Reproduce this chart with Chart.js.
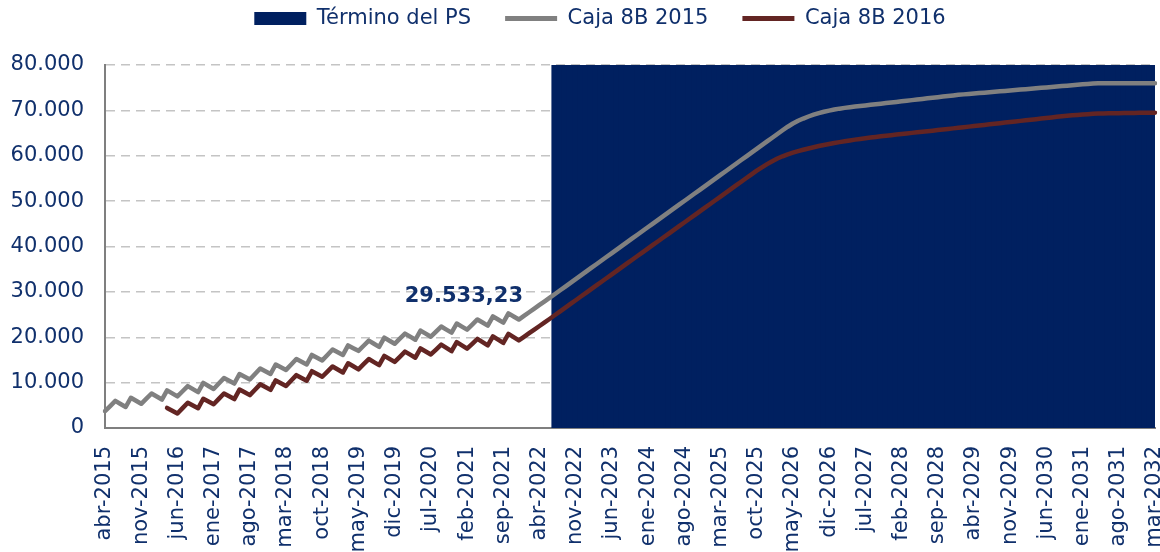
<!DOCTYPE html>
<html><head><meta charset="utf-8">
<script src="https://cdn.jsdelivr.net/npm/chart.js@4.4.1/dist/chart.umd.min.js"></script>
<style>html,body{margin:0;padding:0;background:#fff}</style>
</head><body>
<canvas id="c" width="1160" height="552"></canvas>
<script>
const months = [
'abr-2015','may-2015','jun-2015','jul-2015','ago-2015','sep-2015','oct-2015','nov-2015','dic-2015',
'ene-2016','feb-2016','mar-2016','abr-2016','may-2016','jun-2016','jul-2016','ago-2016','sep-2016','oct-2016','nov-2016','dic-2016',
'ene-2017','feb-2017','mar-2017','abr-2017','may-2017','jun-2017','jul-2017','ago-2017','sep-2017','oct-2017','nov-2017','dic-2017',
'ene-2018','feb-2018','mar-2018','abr-2018','may-2018','jun-2018','jul-2018','ago-2018','sep-2018','oct-2018','nov-2018','dic-2018',
'ene-2019','feb-2019','mar-2019','abr-2019','may-2019','jun-2019','jul-2019','ago-2019','sep-2019','oct-2019','nov-2019','dic-2019',
'ene-2020','feb-2020','mar-2020','abr-2020','may-2020','jun-2020','jul-2020','ago-2020','sep-2020','oct-2020','nov-2020','dic-2020',
'ene-2021','feb-2021','mar-2021','abr-2021','may-2021','jun-2021','jul-2021','ago-2021','sep-2021','oct-2021','nov-2021','dic-2021',
'ene-2022','feb-2022','mar-2022','abr-2022','may-2022','jun-2022','jul-2022','ago-2022','sep-2022','oct-2022','nov-2022','dic-2022',
'ene-2023','feb-2023','mar-2023','abr-2023','may-2023','jun-2023','jul-2023','ago-2023','sep-2023','oct-2023','nov-2023','dic-2023',
'ene-2024','feb-2024','mar-2024','abr-2024','may-2024','jun-2024','jul-2024','ago-2024','sep-2024','oct-2024','nov-2024','dic-2024',
'ene-2025','feb-2025','mar-2025','abr-2025','may-2025','jun-2025','jul-2025','ago-2025','sep-2025','oct-2025','nov-2025','dic-2025',
'ene-2026','feb-2026','mar-2026','abr-2026','may-2026','jun-2026','jul-2026','ago-2026','sep-2026','oct-2026','nov-2026','dic-2026',
'ene-2027','feb-2027','mar-2027','abr-2027','may-2027','jun-2027','jul-2027','ago-2027','sep-2027','oct-2027','nov-2027','dic-2027',
'ene-2028','feb-2028','mar-2028','abr-2028','may-2028','jun-2028','jul-2028','ago-2028','sep-2028','oct-2028','nov-2028','dic-2028',
'ene-2029','feb-2029','mar-2029','abr-2029','may-2029','jun-2029','jul-2029','ago-2029','sep-2029','oct-2029','nov-2029','dic-2029',
'ene-2030','feb-2030','mar-2030','abr-2030','may-2030','jun-2030','jul-2030','ago-2030','sep-2030','oct-2030','nov-2030','dic-2030',
'ene-2031','feb-2031','mar-2031','abr-2031','may-2031','jun-2031','jul-2031','ago-2031','sep-2031','oct-2031','nov-2031','dic-2031',
'ene-2032','feb-2032','mar-2032'
];

const tickLabels = ['abr-2015','nov-2015','jun-2016','ene-2017','ago-2017','mar-2018','oct-2018','may-2019','dic-2019','jul-2020',
'feb-2021','sep-2021','abr-2022','nov-2022','jun-2023','ene-2024','ago-2024','mar-2025','oct-2025','may-2026',
'dic-2026','jul-2027','feb-2028','sep-2028','abr-2029','nov-2029','jun-2030','ene-2031','ago-2031','mar-2032'];

const yTicks = [0, 10000, 20000, 30000, 40000, 50000, 60000, 70000, 80000];

const terminoPS = [
null,null,null,null,null,null,null,null,null,null,
null,null,null,null,null,null,null,null,null,null,
null,null,null,null,null,null,null,null,null,null,
null,null,null,null,null,null,null,null,null,null,
null,null,null,null,null,null,null,null,null,null,
null,null,null,null,null,null,null,null,null,null,
null,null,null,null,null,null,null,null,null,null,
null,null,null,null,null,null,null,null,null,null,
null,null,null,null,null,null,null,80000,80000,80000,
80000,80000,80000,80000,80000,80000,80000,80000,80000,80000,
80000,80000,80000,80000,80000,80000,80000,80000,80000,80000,
80000,80000,80000,80000,80000,80000,80000,80000,80000,80000,
80000,80000,80000,80000,80000,80000,80000,80000,80000,80000,
80000,80000,80000,80000,80000,80000,80000,80000,80000,80000,
80000,80000,80000,80000,80000,80000,80000,80000,80000,80000,
80000,80000,80000,80000,80000,80000,80000,80000,80000,80000,
80000,80000,80000,80000,80000,80000,80000,80000,80000,80000,
80000,80000,80000,80000,80000,80000,80000,80000,80000,80000,
80000,80000,80000,80000,80000,80000,80000,80000,80000,80000,
80000,80000,80000,80000,80000,80000,80000,80000,80000,80000,
80000,80000,80000,80000
];

const caja2015 = [
3700,4833,5967,5300,4633,6667,6000,5333,6467,7600,
6933,6267,8300,7633,6967,8100,9233,8567,7900,9933,
9267,8600,9800,11000,10400,9800,11900,11300,10700,11900,
13100,12500,11900,14000,13400,12800,14000,15200,14600,14000,
16100,15500,14900,16100,17300,16700,16100,18200,17600,17000,
18123,19245,18568,17890,19913,19236,18558,19681,20803,20126,
19449,21471,20794,20116,21239,22362,21684,21007,23029,22352,
21675,22797,23920,23242,22565,24588,23910,23233,25255,24578,
23900,24705,25509,26314,27119,27924,28728,29533.23,30353,31173,
31993,32813,33633,34453,35273,36093,36913,37733,38553,39373,
40193,41013,41833,42653,43473,44293,45113,45933,46753,47573,
48393,49213,50033,50853,51673,52493,53313,54133,54953,55773,
56593,57413,58233,59053,59873,60693,61513,62333,63153,63973,
64793,65613,66400,67100,67700,68200,68650,69050,69400,69700,
69950,70180,70380,70550,70700,70830,70960,71090,71220,71350,
71480,71610,71740,71870,72000,72130,72260,72390,72520,72650,
72780,72910,73040,73170,73300,73430,73526,73622,73718,73814,
73910,74006,74102,74198,74294,74390,74486,74582,74678,74774,
74870,74966,75062,75158,75254,75350,75446,75542,75638,75734,
75830,75926,75960,75960,75960,75960,75960,75960,75960,75960,
75960,75960,75960,75960
];

const caja2016 = [
null,null,null,null,null,null,null,null,null,null,
null,null,4422,3811,3200,4389,5578,4967,4356,6445,
5834,5223,6412,7601,6990,6379,8468,7857,7246,8435,
9624,9013,8402,10491,9880,9269,10458,11647,11036,10425,
12514,11903,11300,12433,13566,12899,12232,14265,13598,12931,
14064,15197,14530,13863,15896,15229,14562,15695,16828,16161,
15494,17527,16860,16200,17282,18364,17646,16928,18910,18192,
17474,18556,19638,18920,18202,20184,19466,18748,20730,20012,
19294,20092,20889,21687,22485,23282,24080,24896,25712,26528,
27344,28160,28976,29792,30608,31424,32240,33056,33872,34688,
35504,36320,37136,37952,38768,39584,40400,41216,42032,42848,
43664,44480,45296,46112,46928,47744,48560,49376,50192,51008,
51824,52640,53456,54272,55088,55904,56720,57450,58150,58800,
59380,59880,60300,60680,61020,61320,61600,61880,62140,62380,
62600,62810,63010,63200,63380,63550,63710,63860,64000,64140,
64280,64410,64540,64670,64800,64920,65040,65160,65280,65400,
65527,65654,65781,65908,66035,66162,66289,66416,66543,66670,
66797,66924,67051,67178,67305,67432,67559,67686,67813,67940,
68067,68194,68321,68448,68575,68702,68800,68900,69000,69090,
69170,69240,69300,69320,69340,69360,69380,69400,69420,69440,
69460,69475,69490,69500
];

const labelIndex = 87; // valor rotulado de Caja 8B 2015

const NAVY_TEXT = '#10306c';
const NAVY_FILL = '#002060';
const GRAY = '#808080';
const BROWN = '#632523';

Chart.defaults.font.family = '"DejaVu Sans", Verdana, sans-serif';
Chart.defaults.font.size = 21;
Chart.defaults.color = NAVY_TEXT;

function fmtThousands(s) { return s.replace(/\B(?=(\d{3})+(?!\d))/g, '.'); }

const valueLabel = {
  id: 'valueLabel',
  afterDatasetsDraw(chart) {
    const meta = chart.getDatasetMeta(1);
    const pt = meta.data[labelIndex];
    if (!pt) return;
    const v = caja2015[labelIndex];
    const txt = fmtThousands(v.toFixed(2).replace('.', ','));
    const ctx = chart.ctx;
    ctx.save();
    ctx.font = 'bold 21px "DejaVu Sans", Verdana, sans-serif';
    ctx.fillStyle = NAVY_TEXT;
    ctx.textAlign = 'right';
    ctx.textBaseline = 'middle';
    ctx.fillText(txt, pt.x - 32, pt.y + 3);
    ctx.restore();
  }
};

new Chart(document.getElementById('c'), {
  type: 'line',
  data: {
    labels: months,
    datasets: [
      {
        type: 'bar', label: 'Término del PS', data: terminoPS,
        backgroundColor: NAVY_FILL, borderWidth: 0,
        barPercentage: 1, categoryPercentage: 1, inflateAmount: 1,
        order: 3, legendStyle: 'rect'
      },
      {
        label: 'Caja 8B 2015', data: caja2015,
        borderColor: GRAY, backgroundColor: GRAY, borderWidth: 4.5,
        pointRadius: 0, tension: 0, fill: false,
        borderJoinStyle: 'round', borderCapStyle: 'round',
        order: 1, legendStyle: 'line'
      },
      {
        label: 'Caja 8B 2016', data: caja2016,
        borderColor: BROWN, backgroundColor: BROWN, borderWidth: 4.5,
        pointRadius: 0, tension: 0, fill: false,
        borderJoinStyle: 'round', borderCapStyle: 'round',
        order: 0, legendStyle: 'line'
      }
    ]
  },
  options: {
    responsive: false,
    animation: false,
    devicePixelRatio: 1,
    layout: { padding: { top: -26, left: 5, right: -35, bottom: 0 } },
    plugins: {
      tooltip: { enabled: false },
      legend: {
        position: 'top',
        labels: {
          usePointStyle: true,
          pointStyleWidth: 52,
          boxHeight: 13,
          padding: 34,
          color: NAVY_TEXT,
          font: { size: 21 },
          sort: (a, b) => a.datasetIndex - b.datasetIndex,
          generateLabels(chart) {
            const items = Chart.defaults.plugins.legend.labels.generateLabels(chart);
            items.forEach(it => {
              const ds = chart.data.datasets[it.datasetIndex];
              it.pointStyle = ds.legendStyle;
              if (ds.legendStyle === 'line') {
                it.lineWidth = 5;
                it.strokeStyle = ds.borderColor;
                it.fillStyle = ds.borderColor;
              } else {
                it.lineWidth = 0;
                it.fillStyle = ds.backgroundColor;
              }
            });
            return items;
          }
        }
      }
    },
    scales: {
      x: {
        type: 'category',
        offset: false,
        z: 1,
        grid: { display: false, offset: false, drawTicks: false },
        border: { display: true, color: '#7f7f7f', width: 2 },
        ticks: {
          autoSkip: false, minRotation: 90, maxRotation: 90, padding: 18,
          color: NAVY_TEXT, font: { size: 21 },
          callback: (v, i) => tickLabels.includes(months[i]) ? months[i] : null
        },
        afterFit(s) { s.paddingLeft = 0; s.paddingRight = 0; s.height = 124; }
      },
      xTop: {
        type: 'category',
        position: 'top',
        display: true,
        grid: { display: false, drawTicks: false },
        border: { display: false },
        ticks: { display: false },
        afterFit(s) { s.height = 26; }
      },
      yRight: {
        type: 'linear',
        position: 'right',
        display: true,
        grid: { display: false, drawTicks: false },
        border: { display: false },
        ticks: { display: false },
        afterFit(s) { s.width = 40; }
      },
      y: {
        min: 0, max: 80000,
        afterBuildTicks(s) { s.ticks = yTicks.map(v => ({ value: v })); },
        grid: { color: '#c4c4c4', lineWidth: 1.5, drawTicks: false },
        border: { display: true, color: '#7f7f7f', width: 2, dash: [9, 6] },
        ticks: {
          padding: 21, color: NAVY_TEXT, font: { size: 21 },
          callback: v => v === 0 ? '0' : fmtThousands(String(v))
        },
        afterFit(s) { s.width = 100; }
      }
    }
  },
  plugins: [valueLabel]
});
</script>
</body></html>
